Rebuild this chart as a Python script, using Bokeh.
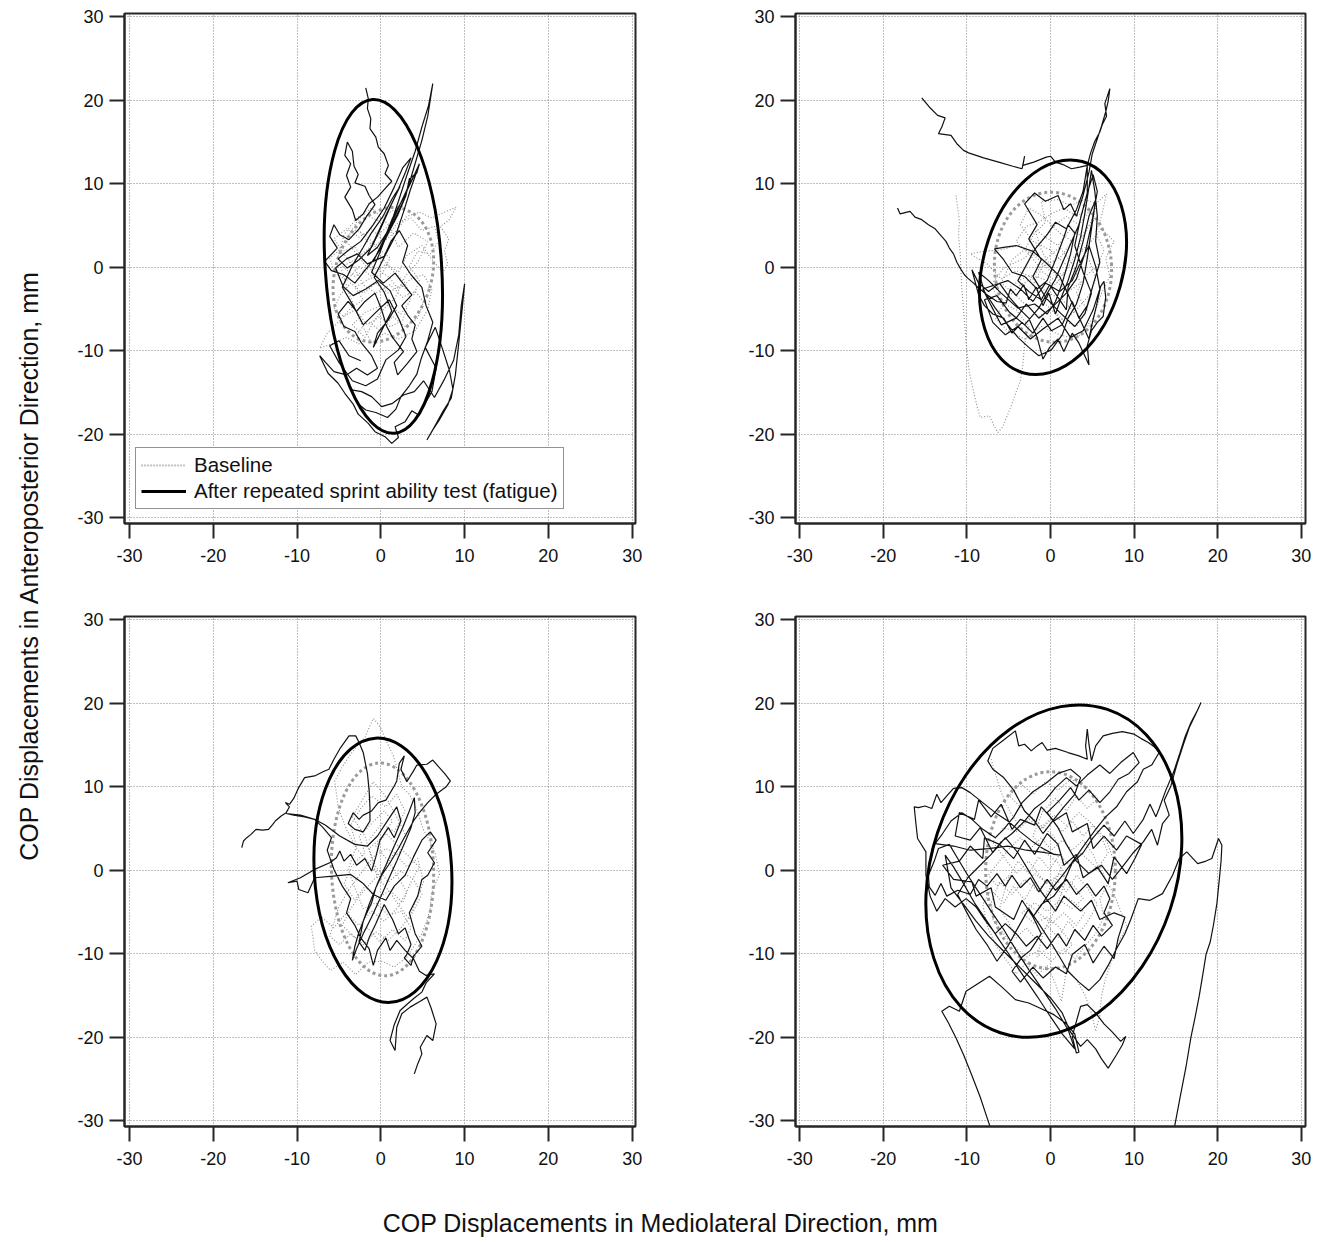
import math
from bokeh.plotting import figure
from bokeh.layouts import row, column
from bokeh.models import FixedTicker, Range1d, Legend, LegendItem, Label
from bokeh.embed import file_html
from bokeh.resources import INLINE

FONT = "Liberation Sans"

tick_values = [-30, -20, -10, 0, 10, 20, 30]
tick_labels = {-30: "-30", -20: "-20", -10: "-10", 0: "0", 10: "10", 20: "20", 30: "30"}
x_label = "COP Displacements in Mediolateral Direction, mm"
y_label = "COP Displacements in Anteroposterior Direction, mm"
legend_labels = ["Baseline", "After repeated sprint ability test (fatigue)"]

# ---- Panel 1 (top-left) ----
p1_baseline = [
 (-0.5,-1.2),(-1.8,0.6),(-3.1,2.4),(-4.6,1.9),(-5.6,3.4),(-4.1,4.6),(-2.6,3.6),(-1.1,4.6),(0.4,3.1),(1.9,4.4),(3.1,6.1),(4.6,6.6),(6.1,5.9),(7.6,6.6),(9.0,7.2),(8.1,5.6),(7.1,4.9),(8.1,3.4),(7.6,1.9),(8.0,0.4),(7.4,-0.6),(6.1,0.9),(4.9,2.6),(3.1,1.4),(2.1,-0.6),(0.6,0.4),(-1.1,-1.1),(-2.6,0.1),(-4.1,-1.6),(-5.6,-0.4),(-6.1,1.1),(-4.9,2.1),(-3.4,0.4),(-2.1,-2.1),(-0.6,-3.1),(1.1,-2.1),(2.6,-3.6),(4.1,-2.9),(5.1,-4.1),(4.4,-6.1),(2.9,-7.1),(1.4,-5.9),(-0.1,-7.6),(-1.6,-6.4),(-2.9,-8.1),(-2.6,-9.2),(-4.1,-8.4),(-5.6,-9.1),(-7.3,-9.7),(-6.4,-7.9),(-4.9,-6.4),(-3.6,-4.9),(-2.1,-3.9),(-3.1,-2.4),(-1.4,-1.4),(0.1,-0.9),(1.1,1.1),(-0.1,2.1),(-1.6,3.1),(-3.1,5.1),(-2.1,6.4),(-0.4,5.6),(1.1,6.6),(2.6,7.4),(1.4,5.4),(-0.1,4.1),(-1.6,2.1),(-3.1,0.9),(-4.6,0.1),(-3.1,-1.1),(-1.1,0.1),(0.9,-1.1),(2.1,-2.6),(3.6,-1.4),(5.1,-0.9),(6.1,-2.6),(5.6,-5.1),(4.1,-7.6),(2.1,-8.6),(0.4,-7.9),(-1.1,-9.1),(-2.4,-6.6),(-3.9,-2.9),(-5.1,1.1),(-4.4,3.9),(-2.9,5.9),(-1.1,7.1),(0.9,5.1),(2.1,2.4),(3.9,4.1),(5.6,3.1),(4.4,0.6),(2.9,-1.1),(1.6,-3.9),(0.1,-4.6),(-1.9,-5.4),(-3.4,-6.9),(-1.9,-8.4),
 (-0.6,-6.1),(0.9,-4.4),(2.4,-5.6),(3.6,-3.9),(2.9,-1.9),(1.4,-0.4),(-0.1,1.4),(-1.6,-0.1),(-2.9,1.6),(-4.1,3.1),(-3.4,4.6),(-1.9,3.9),(-0.6,2.6),(0.9,3.9),(2.1,5.4),(3.6,5.9),(4.9,4.4),(6.4,4.9),(6.9,3.1),(5.9,1.6),(4.4,1.9),(3.4,0.1),(4.6,-1.6),(3.9,-3.4),(2.4,-2.1),(0.9,-3.1),(-0.6,-1.9),(-2.1,-3.1),(-3.6,-1.9),(-4.9,-3.4),(-5.6,-5.1),(-4.4,-5.9),(-3.1,-5.1),(-1.6,-6.9),(-0.1,-5.9),(1.1,-7.1),(2.6,-6.4),(3.1,-4.9)
]
p1_fatigue = [
 (-1.8,21.5),(-1.5,20.2),(-1.6,19.0),(-1.2,17.8),(-1.3,16.6),(-0.6,15.6),(-0.3,14.4),(0.4,13.6),(0.9,12.2),(0.5,11.2),(1.3,10.3),(0.4,9.3),(-0.4,8.4),(-1.4,7.6),(-2.1,6.4),(-3.0,5.6),(-3.4,6.9),(-4.3,8.4),(-3.6,9.6),(-4.1,11.0),(-3.6,12.4),(-4.3,13.4),(-4.0,15.0),(-3.4,13.9),(-3.2,12.1),(-2.7,11.1),(-3.1,10.1),(-1.9,9.7),(-1.4,8.6),(-0.7,7.5),(-1.7,6.1),(-2.6,4.6),(-3.8,3.3),(-4.9,3.9),(-5.6,5.1),(-6.1,3.7),(-5.2,2.3),(-6.7,0.7),(-5.9,-0.4),(-4.4,-0.9),(-3.1,-1.9),(-2.0,-0.5),(-1.1,0.6),(-0.1,2.1),(0.9,4.1),(2.0,6.2),(3.0,8.6),(3.4,10.6),(4.3,11.3),(4.6,12.4),(3.7,10.4),(2.6,8.1),(1.4,5.9),(0.4,3.4),(-0.9,0.7),(0.2,2.9),(1.6,5.6),(2.9,8.4),(4.0,12.1),(4.9,15.2),(5.6,18.1),(6.2,22.0),(5.7,19.4),(4.9,16.8),(4.1,13.9),(3.1,11.0),(2.1,7.9),(1.1,4.9),(-0.1,1.8),(-1.1,-0.6),(0.3,-1.9),(1.7,-0.7),(2.9,-2.3),(3.7,-3.3),(2.5,-4.6),(3.3,-5.9),(4.1,-6.9),(3.7,-8.6),(4.3,-10.1),(3.1,-11.6),(2.0,-12.9),(1.6,-11.4),(2.7,-10.1),(1.4,-8.4),(0.7,-7.1),(0.1,-5.1),(-0.7,-3.1),(-1.9,-4.1),(-2.9,-5.3),(-3.9,-4.1),(-5.1,-5.6),(-4.4,-7.1),(-3.1,-7.7),(-2.3,-9.1),(-1.1,-10.6),(-0.4,-12.1),(-1.6,-12.9),(-2.9,-12.1),(-4.1,-12.9),(-5.6,-12.5),(-6.6,-11.4),(-7.3,-10.6),(-6.3,-12.7),(-5.1,-13.9),(-4.3,-15.1),(-3.3,-16.4),(-2.7,-17.6),(-1.5,-18.7),(-0.7,-19.7),(0.5,-20.3),(1.3,-21.1),(2.1,-20.4),(1.7,-19.1),(2.9,-18.5),(3.7,-17.2),(4.5,-17.7),(5.4,-16.1),(6.1,-14.9),(6.6,-12.1),(5.3,-9.6),(6.5,-7.2),(7.3,-9.6),(8.2,-12.4),(8.6,-14.6),(8.0,-16.5),(7.1,-18.1),(6.2,-19.5),(5.5,-20.7),(6.4,-19.1),(7.4,-17.3),(8.4,-15.7),(8.9,-12.9),(9.3,-9.1),(9.7,-5.1),(10.0,-2.0),(9.6,-4.6),(9.3,-8.1),(8.7,-11.1),(7.6,-13.4),(6.4,-15.6),(5.1,-13.6),(4.0,-14.9),(2.7,-15.3),(1.4,-16.3),(0.1,-16.7),(-1.1,-15.5),(-2.3,-14.9),(-3.5,-14.7),(-2.8,-16.3),(-1.8,-17.1),(-0.6,-17.4),(0.8,-18.0),(1.8,-17.0),(2.4,-15.5),(3.4,-14.2),(4.3,-12.8),(4.8,-11.0),(5.6,-8.8),(6.2,-6.6),(5.4,-4.6),(4.9,-2.4),(3.6,-0.9),(2.6,0.6),(3.2,2.6),(2.2,4.4),(1.2,3.1),(0.4,1.3),(-1.6,0.4),(-2.8,1.6),(-4.1,1.0),(-5.4,-0.1),(-4.5,-2.3),(-3.3,-3.4),(-1.8,-2.6),(-0.3,-1.6),(1.1,-2.8),(1.9,-4.6),(0.9,-6.3),(-0.4,-7.9),(-0.9,-9.6),
 (0.2,-7.4),(1.3,-5.2),(0.4,-3.0),(-0.8,-1.2),(0.6,1.6),(1.8,3.9),(2.7,6.6),(3.5,9.2),(4.4,11.8),(3.4,9.9),(2.1,7.1),(1.0,4.6),(-0.4,2.4),(-1.6,1.4),(-0.6,3.6),(0.7,6.4),(1.9,8.9),(2.9,11.3),(3.6,13.1),(2.6,11.9),(1.6,9.6),(0.4,7.1),(-0.9,5.1),(-2.4,3.1),(-3.9,2.0),(-5.1,1.0),(-4.0,-0.1),(-2.6,0.9),(-1.1,2.4),(0.1,4.9),(1.2,7.4),(2.3,9.7),(1.4,8.3),(0.2,6.0),(-1.2,4.0),(-2.1,2.4),(-3.4,0.2),(-4.6,-2.4),(-3.3,-4.6),(-2.1,-6.9),(-0.6,-5.4),(1.0,-3.9),(2.2,-6.3),(3.0,-8.3),(2.1,-9.9),(0.6,-11.1),(-0.4,-13.4),(-1.8,-14.2),(-3.4,-13.6),(-5.0,-11.4),(-6.1,-9.4),(-5.0,-8.8),(-3.8,-10.6),(-2.4,-11.2)
]
# ellipse: (center x, center y, minor width, major height, angle rad)
p1_base_ellipse = (0.3, -0.9, 11.5, 16.5, -0.3)
p1_fat_ellipse = (0.3, 0.1, 13.9, 40.1, 0.065)

# ---- Panel 2 (top-right) ----
p2_baseline = [
 (-11.3,8.6),(-11.1,7.1),(-10.9,5.6),(-11.0,3.9),(-10.8,1.6),(-10.7,-0.6),(-10.6,-2.6),(-10.4,-5.1),(-10.2,-7.6),(-10.0,-10.1),(-9.7,-12.6),(-9.2,-14.9),(-8.8,-16.6),(-8.4,-18.0),(-7.3,-17.8),(-6.8,-18.9),(-6.3,-19.8),(-5.7,-19.1),(-5.1,-17.6),(-4.6,-16.3),(-4.1,-14.9),(-3.6,-13.6),(-3.3,-11.6),(-3.1,-9.3),(-2.6,-7.1),(-4.1,-5.1),(-6.1,-4.1),(-7.1,-2.1),(-5.6,-0.1),(-3.1,1.1),(-1.1,3.1),(0.4,4.9),(1.9,6.1),(3.4,5.1),(4.9,7.1),(6.7,8.8),(6.1,6.1),(5.4,4.1),(6.4,2.1),(5.6,0.1),(4.1,-1.1),(3.1,-3.1),(4.4,-5.1),(3.1,-7.1),(1.1,-6.1),(-0.9,-4.1),(-2.1,-2.1),(-0.9,0.1),(1.1,1.1),(2.6,3.1),(1.1,4.1),(-0.9,6.1),(-2.6,7.1),(-3.6,5.1),(-2.1,3.1),(-0.1,2.1),(2.1,0.1),(0.6,-2.1),(-1.6,-1.1),(-3.6,-2.1),(-5.1,-3.6),(-6.6,-6.1),(-5.1,-7.6),(-3.1,-8.6),(-1.1,-7.1),(1.1,-8.1),(3.1,-8.6),(5.1,-6.1),(6.1,-3.1),(7.1,-1.1),(6.6,1.1),(7.6,3.1),(6.1,4.6),(4.4,2.6),(2.9,1.4),(1.6,-0.9),(-0.1,-0.4),(-1.9,1.4),(-3.9,2.6),(-5.9,2.1),(-8.1,1.9),(-9.6,1.6),(-7.6,0.4),(-5.9,-1.4),(-4.1,-0.4),(-2.4,-1.1),(-0.6,-2.9),(1.4,-3.9),(2.9,-5.4),(1.9,-2.6),(0.4,-0.6),(-1.1,2.1),(-1.9,4.6),(-0.6,3.6),(0.9,2.6),(2.4,4.6),(3.9,3.6),(4.9,5.6),(5.6,7.6),(4.1,8.1),(2.4,7.4),(0.9,8.1),(-1.1,7.9),(-0.6,5.4),
 (-1.9,4.1),(-3.1,2.1),(-4.6,0.9),(-5.9,-1.9),(-4.4,-3.1),(-2.9,-4.6),(-1.4,-5.9),(0.1,-4.9),(1.6,-6.4),(3.1,-5.1),(4.6,-3.4),(5.4,-1.4),(4.6,0.9),(3.4,2.4),(4.1,4.4),(5.4,5.9),(4.4,6.9),(3.1,6.1),(1.6,7.1),(0.1,6.4),(-1.4,5.4),(-2.9,4.9),(-4.1,3.1),(-2.4,1.4),(-0.9,-0.6),(0.6,-1.6),(2.1,-2.9),(3.6,-1.9),(2.6,0.4),(1.1,2.4),(-0.4,1.1),(-1.9,-0.9),(-3.4,-1.4),(-4.9,-2.4)
]
p2_fatigue = [
 (-18.3,7.1),(-18.0,6.4),(-16.8,6.7),(-16.2,6.0),(-15.4,5.7),(-14.6,5.1),(-13.8,4.6),(-13.1,3.8),(-12.5,3.1),(-12.1,2.3),(-11.6,1.6),(-11.2,0.6),(-10.8,-0.1),(-10.3,-0.9),(-9.9,-1.3),(-9.2,-1.9),(-8.7,-2.4),(-7.6,-3.3),(-6.4,-4.1),(-5.3,-4.3),(-4.8,-2.6),(-4.1,-3.4),(-3.2,-2.1),(-2.6,-3.9),(-1.7,-2.4),(-0.9,-4.6),(-0.2,-3.1),(0.6,-5.6),(1.3,-3.6),(2.1,-1.6),(2.9,0.9),(3.6,3.6),(4.1,6.4),(4.6,9.6),(4.9,11.6),(5.3,9.1),(5.6,6.1),(5.4,3.1),(5.9,0.6),(5.1,-2.1),(4.4,-4.6),(3.4,-6.1),(2.6,-4.1),(1.4,-6.9),(0.1,-7.6),(-0.9,-6.1),(-2.1,-7.9),(-3.4,-6.6),(-4.6,-7.9),(-5.6,-6.1),(-6.9,-5.6),(-7.9,-4.6),(-8.6,-3.3),(-9.4,-0.3),(-8.6,-1.9),(-7.4,-2.9),(-6.1,-1.9),(-4.9,-3.6),(-3.6,-5.1),(-2.6,-6.1),(-1.6,-8.4),(-0.9,-11.0),(-0.1,-9.6),(0.9,-8.6),(1.6,-10.1),(2.6,-7.9),(3.4,-9.1),(4.0,-10.4),(4.6,-11.7),(4.4,-9.4),(4.9,-7.6),(5.6,-6.6),(6.3,-5.9),(6.6,-3.6),(6.4,-1.7),(6.0,-2.3),(5.5,-4.6),(4.9,-7.1),(4.6,-8.6),(3.6,-6.4),(2.4,-3.9),(1.1,-1.1),(-0.6,0.6),(-2.1,1.9),(-4.1,2.6),(-5.4,2.4),(-6.7,2.2),(-5.6,0.9),(-4.6,-0.6),(-3.1,-1.1),(-1.6,-2.6),(-0.4,-1.6),(0.6,0.9),(1.6,3.6),(2.1,5.1),(2.9,4.1),(2.4,1.6),(1.4,-1.9),(0.6,-4.1),(-0.4,-5.6),(-1.9,-4.4),(-3.9,-4.9),(-5.9,-3.1),(-7.4,-1.6),(-8.6,-0.6),(-7.9,-2.9),(-6.6,-4.9),(-5.1,-6.9),(-3.9,-8.4),(-2.6,-9.6),(-1.4,-10.6),(0.1,-9.9),(1.4,-8.1),(2.1,-6.1),(3.1,-4.4),(3.9,-1.9),(4.4,1.1),(4.9,4.6),(5.4,8.1),(4.6,6.1),(3.9,3.1),(3.1,0.1),(2.1,-2.4),(1.9,-5.1),(0.9,-3.6),(-0.1,-2.1),(-1.1,-3.9),(-2.6,-2.9),(-3.9,-1.6),(-1.9,2.1),(-0.4,3.9),(0.6,5.4),(1.9,4.6),(3.1,6.9),(3.9,9.1),(4.4,12.2),(4.8,13.7),(5.3,15.1),(5.9,16.2),(6.2,17.1),(6.7,18.1),(6.5,19.6),(7.1,21.4),(6.9,19.9),(6.6,18.6),(6.1,16.9),(5.6,15.4),(5.0,13.6),(4.6,11.4),(3.9,8.6),(3.1,6.1),(2.4,7.6),(1.6,6.9),(0.9,8.6),(-0.6,7.9),(-1.9,8.9),(-3.1,7.6),(-1.6,5.1),(-2.6,3.4),(-1.1,0.9),(-2.1,-1.1),(-0.6,-3.6),(1.1,-5.4),(2.9,-7.1),(4.1,-5.6),(4.9,-3.1),(3.9,-0.6),(2.9,2.6),(3.6,5.9),(4.4,8.9),
 (3.4,5.1),(2.1,2.1),(0.6,-1.4),(-1.4,-4.9),(-3.1,-6.9),(-4.9,-5.4),(-6.4,-3.4),(-7.9,-3.9),(-6.9,-6.6),(-5.4,-8.1),(-3.9,-7.1),(-2.4,-8.6),(-0.9,-7.4),(0.9,-6.1),(2.4,-8.4),(3.9,-7.6),(5.1,-5.1),(5.9,-2.6),(5.4,0.1),(4.6,2.6),(3.6,0.6),(2.6,-1.6),(1.1,-2.9),(-0.6,-1.9),(-2.1,-4.1),(-3.6,-2.6),(-5.1,-1.6),(-6.6,-2.1),(-8.1,-2.6),(-7.1,-4.6),(-5.9,-6.9),(-4.1,-6.1),(-2.9,-4.4),(-1.4,-6.1),(0.4,-4.6),(1.9,-3.1),(3.1,-1.4),(4.1,1.6),(4.9,5.1),(5.6,9.1),(5.1,11.1),(4.4,8.9),
 (4.4,12.2),(3.5,12.0),(2.5,11.8),(1.5,12.3),(0.6,12.6),(0.0,13.3),(-0.5,13.2),(-2.0,12.6),(-3.3,12.2),(-3.1,13.3),(-3.4,11.8),(-4.5,12.1),(-6.2,12.6),(-8.0,13.1),(-9.8,13.7),(-10.4,14.0),(-11.2,14.8),(-11.9,15.8),(-13.4,16.0),(-13.0,16.8),(-12.6,17.9),(-13.5,18.2),(-14.5,19.2),(-15.4,20.3)
]
p2_base_ellipse = (0.3, 0.0, 14.0, 18.0, 0.07)
p2_fat_ellipse = (0.3, 0.0, 16.7, 26.3, -0.27)

# ---- Panel 3 (bottom-left) ----
p3_baseline = [
 (0.1,-1.1),(-1.4,0.9),(-2.9,2.6),(-4.1,4.9),(-5.1,7.6),(-5.5,10.7),(-4.6,12.4),(-3.6,13.9),(-2.7,15.1),(-1.9,15.9),(-1.4,17.1),(-0.9,18.2),(-0.4,17.6),(0.0,17.0),(0.6,15.6),(1.5,13.7),(2.1,11.6),(2.5,10.0),(3.4,9.1),(4.0,8.0),(4.6,6.4),(5.0,5.0),(5.9,3.4),(6.5,2.0),(7.0,-0.5),(6.4,-1.9),(6.0,-3.0),(5.9,-4.6),(5.5,-6.0),(4.9,-7.6),(4.0,-9.0),(3.1,-10.4),(1.6,-11.6),(0.1,-10.9),(-1.5,-11.0),(-3.0,-12.5),(-4.5,-11.0),(-6.0,-12.0),(-7.0,-10.9),(-7.9,-9.6),(-8.1,-8.1),(-8.3,-6.7),(-7.1,-5.6),(-5.6,-6.9),(-4.1,-5.1),(-2.6,-6.6),(-1.1,-4.9),(0.4,-6.1),(1.9,-4.6),(3.1,-2.6),(2.1,-0.9),(0.9,1.1),(-0.6,2.9),(0.6,4.4),(1.9,3.1),(3.4,1.6),(4.6,0.4),(3.6,-1.4),(2.6,-3.9),(1.1,-2.4),(-0.4,-3.4),(-1.9,-1.9),(-3.1,-3.6),(-4.4,-1.6),(-3.4,0.6),(-1.9,2.1),(-2.6,4.1),(-1.1,5.6),(0.4,7.1),(1.4,5.9),(0.1,3.9),(-1.4,2.6),(-0.6,0.4),(0.9,-1.4),(2.4,-0.1),(3.9,-1.1),(4.9,-2.9),(3.9,-4.9),(2.4,-6.9),(0.9,-8.4),(-0.6,-7.4),(-2.1,-8.9),(-3.6,-7.6),(-4.9,-8.9),(-6.1,-7.9),(-5.1,-4.6),(-3.9,-2.4),(-2.4,-0.4),(-0.9,1.6),(0.6,2.6),(2.1,1.9),(3.1,3.9),(1.9,6.4),(0.4,9.1),(-0.9,10.6),(-2.1,8.6),(-3.4,6.4),(-1.9,4.1),(-0.4,-0.9),
 (0.9,-2.4),(2.1,-4.1),(3.4,-5.9),(4.1,-3.9),(5.1,-1.4),(4.4,1.4),(3.1,0.4),(1.6,2.1),(0.4,0.1),(-1.1,-1.4),(-2.4,-2.9),(-3.6,-4.6),(-4.6,-6.6),(-3.1,-8.1),(-1.6,-6.9),(-0.1,-8.6),(1.4,-7.1),(2.9,-8.4),(3.6,-6.9),(2.4,-4.9),(0.9,-5.4),(-0.6,-3.9),(-2.1,-4.6),(-3.1,-2.1),(-3.9,0.1),(-2.9,2.9),(-3.6,5.4),(-2.4,7.4),(-1.1,8.9),(0.6,7.6),(1.9,9.1),(2.9,7.1),(1.6,4.6),(0.1,5.6),(-1.4,3.6)
]
p3_fatigue = [
 (-16.6,2.7),(-16.4,3.5),(-16.0,3.9),(-15.5,4.3),(-14.9,4.9),(-14.1,4.8),(-13.4,4.9),(-12.9,5.5),(-12.6,5.9),(-11.9,6.5),(-11.3,6.9),(-10.9,7.6),(-11.4,8.1),(-10.9,7.9),(-10.4,8.6),(-9.8,9.9),(-9.1,11.1),(-7.9,11.3),(-6.9,11.8),(-6.2,12.1),(-5.6,13.3),(-4.8,14.7),(-3.8,16.1),(-3.0,16.1),(-2.6,15.3),(-2.1,14.1),(-1.6,11.6),(-1.4,9.6),(-1.3,7.6),(-1.3,5.9),(-2.1,4.6),(-3.1,4.9),(-3.9,5.6),(-3.3,6.9),(-2.6,6.1),(-2.1,6.6),(-1.1,7.1),(-0.3,8.1),(0.6,8.4),(1.6,10.1),(1.9,10.7),(2.2,12.8),(2.8,13.7),(2.4,12.1),(3.1,10.6),(3.9,11.9),(4.3,12.6),(5.5,12.7),(6.2,13.2),(6.8,12.5),(7.6,11.6),(8.3,10.7),(7.8,10.0),(6.6,9.1),(5.6,8.1),(4.6,6.9),(3.9,5.9),(2.9,4.1),(2.1,2.6),(1.1,0.9),(0.1,-0.6),(-0.6,-2.1),(-1.1,-3.9),(-1.9,-5.6),(-2.6,-7.4),(-3.1,-9.1),(-3.4,-10.8),(-2.9,-9.4),(-2.1,-7.6),(-1.1,-5.6),(-0.1,-3.4),(0.9,-1.1),(1.9,1.1),(2.9,3.4),(3.6,5.1),(4.1,6.9),(4.0,8.7),(3.4,7.1),(2.6,5.1),(1.6,2.9),(0.6,0.6),(-0.4,-1.6),(-1.4,-4.1),(-2.1,-6.1),(-2.6,-8.6),(-1.9,-9.6),(-1.4,-8.1),(-0.6,-6.4),(0.4,-4.1),(1.4,-5.9),(2.1,-7.6),(2.9,-6.9),(3.6,-8.9),(3.1,-10.1),(2.8,-10.5),(3.6,-11.4),(3.9,-10.3),(4.9,-9.1),(4.1,-7.6),(3.4,-5.1),(4.4,-3.1),(4.9,-1.1),(5.6,-0.6),(6.4,0.9),(5.6,2.1),(6.6,3.6),(5.9,4.6),(4.9,3.6),(3.9,1.6),(2.9,-0.6),(1.6,-1.9),(0.6,-3.6),(-0.9,-2.9),(-2.1,-1.6),(-3.6,-0.5),(-5.7,-0.7),(-7.9,-0.9),(-8.7,-2.7),(-9.8,-2.3),(-10.0,-1.3),(-11.1,-1.5),(-9.6,-0.9),(-7.9,0.1),(-6.1,0.9),(-5.3,1.5),(-4.9,2.3),(-4.4,1.1),(-3.6,1.9),(-2.9,0.6),(-1.9,1.4),(-1.1,-0.1),(-0.6,1.6),(-0.1,3.6),(0.9,5.1),(1.6,3.9),(2.4,5.9),(1.9,7.6),(0.9,6.1),(-0.4,4.1),(-1.6,2.9),(-3.1,3.1),(-4.9,4.1),(-6.6,5.4),(-7.9,6.1),(-9.1,6.4),(-10.4,6.6),(-11.3,6.8),(-9.6,6.6),(-7.9,6.1),(-6.9,5.1),(-5.9,3.9),(-6.4,2.4),(-5.6,0.1),(-4.6,-1.9),(-3.6,-3.4),(-4.1,-5.1),(-3.1,-6.6),(-2.4,-8.1),(-1.4,-9.4),(-0.9,-11.4),(-0.4,-9.6),(0.6,-8.1),(1.1,-9.6),(1.9,-8.4),(2.9,-9.6),(3.9,-10.6),(4.6,-12.1),(5.4,-12.6),(6.4,-12.4),(5.4,-13.5),(4.9,-14.6),(4.0,-15.3),(3.2,-16.0),(2.3,-16.8),(1.6,-18.5),(1.1,-20.4),(1.7,-21.6),(1.9,-18.8),(2.5,-17.2),(3.5,-16.4),(4.7,-15.7),(5.5,-15.2),(6.0,-16.5),(6.6,-18.4),(6.2,-20.4),(5.5,-19.8),(4.7,-21.2),(4.9,-22.0),(4.4,-23.2),(4.0,-24.4)
]
p3_base_ellipse = (0.2, 0.1, 12.2, 25.5, 0.03)
p3_fat_ellipse = (0.25, 0.0, 16.4, 31.7, 0.056)

# ---- Panel 4 (bottom-right) ----
p4_baseline = [
 (-7.1,13.3),(-6.6,11.6),(-6.1,9.9),(-5.4,8.1),(-4.6,6.6),(-3.6,5.1),(-2.4,6.4),(-1.1,4.9),(0.1,6.1),(1.4,4.6),(2.6,5.9),(3.9,4.1),(5.1,5.4),(6.1,3.9),(6.9,2.1),(5.9,0.6),(6.6,-1.1),(7.6,-2.9),(8.4,-4.9),(9.2,-6.8),(8.1,-8.6),(7.4,-10.6),(6.6,-12.9),(6.1,-15.1),(5.9,-17.4),(5.4,-19.3),(4.9,-17.1),(4.1,-14.9),(3.1,-13.1),(1.9,-11.9),(1.6,-13.9),(1.3,-15.7),(0.6,-13.6),(-0.4,-11.4),(-1.6,-12.6),(-2.9,-11.1),(-4.1,-12.4),(-5.4,-10.6),(-6.6,-8.9),(-7.6,-6.6),(-8.1,-4.1),(-7.1,-2.4),(-5.6,-3.9),(-4.4,-1.9),(-3.1,-3.6),(-1.9,-1.4),(-0.6,-3.1),(0.6,-0.9),(1.9,-2.6),(3.1,-0.6),(4.4,-2.1),(5.6,-4.1),(4.6,-5.9),(3.4,-7.6),(2.1,-6.1),(0.9,-8.1),(-0.4,-6.6),(-1.6,-8.4),(-2.9,-6.9),(-4.1,-8.1),(-5.1,-6.1),(-6.1,-4.6),(-5.1,-1.1),(-3.9,1.1),(-2.6,-0.4),(-1.4,1.6),(-0.1,0.1),(1.1,1.9),(2.4,0.4),(3.6,2.1),(4.9,0.9),(6.1,-0.4),(5.1,1.9),(3.9,3.6),(2.6,2.4),(1.4,3.6),(0.1,2.4),(-1.1,3.9),(-2.4,2.6),(-3.6,3.9),(-4.9,2.6),(-6.1,1.1),(-7.4,-0.6),(-6.4,-1.9),(-4.9,-0.6),(-3.4,-1.9),(-1.9,-0.4),(-0.4,-1.6),(1.1,-0.4),(2.6,-1.6),(3.9,-3.4),(2.6,-4.6),(1.1,-3.6),(-0.4,-4.9),(-1.9,-3.9),(-3.4,-5.1),(-1.9,-6.4),(-0.4,-5.6),(1.1,-6.9),(2.6,-8.9),(1.4,-10.1),(-0.1,-9.1),(-1.6,-10.4),(-0.9,-7.6),(0.6,-4.6),(1.9,-1.1),(0.9,0.9),(-0.6,2.1),(-2.1,4.1),(-0.9,7.1),(0.6,8.6),(1.9,7.1),(3.1,8.9),(4.4,7.4),(5.6,8.6),(4.1,10.1),(2.4,10.9),(0.9,9.6),(-0.6,10.6),(-2.1,9.1),(-3.6,10.4),(-4.9,8.9),(-3.1,7.1),(-1.4,5.6),(0.4,4.1),(1.6,1.1),(0.4,-1.9),
 (-1.1,-0.9),(-2.6,1.1),(-4.1,-0.4),(-5.6,1.6),(-6.9,3.4),(-5.6,5.1),(-4.1,4.6),(-2.6,6.1),(-1.1,5.1),(0.4,6.6),(1.9,5.4),(3.4,6.9),(4.6,5.9),(5.9,4.6),(6.9,3.1),(7.6,0.9),(6.9,-1.6),(5.9,-3.4),(6.4,-5.6),(5.4,-7.6),(4.1,-9.1),(2.9,-10.6),(1.6,-9.4),(0.1,-10.9),(-1.4,-9.6),(-2.9,-10.4),(-4.4,-9.1),(-5.6,-7.6),(-6.9,-5.9),(-7.1,-3.9),(-6.1,-1.4),(-4.6,-2.9),(-3.1,-1.1),(-1.6,-2.4),(-0.1,-1.1),(1.4,-2.9),(2.9,-3.9),(4.1,-5.1),(3.1,-6.6),(1.6,-5.1),(0.1,-6.4),(-1.4,-5.1),(-2.9,-3.9)
]
p4_fatigue = [
 (-6.8,-32.0),(-7.6,-29.6),(-8.4,-27.2),(-9.4,-24.6),(-10.4,-22.1),(-11.3,-20.1),(-12.2,-18.3),(-13.0,-16.9),(-12.1,-16.3),(-10.9,-16.9),(-10.1,-14.5),(-8.7,-13.6),(-7.3,-12.7),(-5.8,-14.0),(-4.2,-15.5),(-2.6,-15.9),(-1.1,-16.6),(0.4,-17.3),(1.9,-18.4),(2.9,-19.6),(3.4,-21.8),(3.1,-21.9),(2.6,-19.9),(3.6,-16.3),(4.4,-16.1),(5.4,-17.1),(6.4,-18.4),(7.4,-19.4),(8.4,-20.5),(9.0,-19.9),(8.6,-20.9),(7.9,-22.1),(6.9,-23.7),(6.1,-22.6),(5.4,-21.4),(4.4,-20.3),(3.6,-21.1),(2.4,-19.4),(1.4,-17.1),(0.1,-15.4),(-1.4,-13.9),(-2.9,-12.4),(-4.4,-10.9),(-5.9,-9.4),(-7.4,-7.9),(-8.9,-6.1),(-10.4,-4.1),(-11.9,-2.1),(-12.6,1.8),(-11.6,0.4),(-10.4,-1.6),(-9.1,-3.9),(-7.6,-6.1),(-6.1,-8.4),(-4.6,-10.6),(-3.1,-12.9),(-1.6,-15.1),(-0.1,-17.4),(1.4,-19.6),(2.9,-21.4),(2.1,-19.1),(0.6,-16.6),(-1.1,-14.1),(-2.6,-11.9),(-4.1,-9.6),(-5.6,-7.1),(-7.1,-4.9),(-8.6,-2.6),(-9.9,-0.6),(-11.1,1.4),(-12.1,3.1),(-13.4,2.6),(-13.9,1.1),(-14.6,-0.6),(-14.5,-2.0),(-13.8,-3.0),(-13.1,-1.6),(-12.4,-3.1),(-11.1,-2.4),(-9.6,-2.9),(-8.6,-1.1),(-7.6,-1.9),(-6.4,-0.4),(-5.4,-1.9),(-4.6,-0.6),(-3.6,-2.1),(-2.4,-0.9),(-1.4,-2.6),(-0.4,-1.1),(0.6,-2.4),(1.9,-1.1),(3.1,-2.9),(4.4,-1.6),(5.4,-3.1),(6.4,-1.9),(7.1,-3.4),(6.4,-5.1),(7.4,-6.6),(6.1,-7.9),(5.1,-6.6),(4.1,-8.4),(2.9,-7.1),(1.9,-9.1),(0.9,-7.6),(-0.4,-9.4),(-1.6,-7.9),(-2.9,-9.1),(-4.1,-7.6),(-5.4,-6.4),(-6.6,-7.6),(-7.9,-5.9),(-8.9,-4.4),(-10.1,-3.4),(-11.4,-4.4),(-12.6,-3.4),(-13.6,-4.9),(-14.4,-3.1),(-14.9,-0.6),(-14.9,2.2),(-15.9,3.8),(-16.1,5.6),(-16.3,7.6),(-15.8,7.5),(-15.0,7.7),(-14.2,7.4),(-13.6,9.1),(-13.1,8.1),(-12.4,8.9),(-11.6,9.8),(-10.6,9.9),(-9.6,9.3),(-8.1,8.1),(-6.6,6.9),(-5.1,5.9),(-3.6,4.6),(-2.1,3.4),(-0.9,2.6),(0.4,1.9),(1.3,1.8),(-0.6,2.1),(-2.9,2.4),(-5.1,2.9),(-7.4,2.6),(-9.6,2.4),(-11.6,2.9),(-13.8,3.2),(-12.9,4.4),(-11.9,5.9),(-10.6,6.9),(-9.4,6.1),(-8.1,4.9),(-6.6,3.9),(-5.6,4.9),(-4.4,6.4),(-3.4,8.1),(-2.1,9.4),(-0.6,10.4),(0.9,11.6),(2.4,12.1),(3.6,11.1),(2.9,9.1),(1.6,7.6),(0.4,6.1),(-0.9,4.4),(-1.9,5.9),(-3.1,7.1),(-4.4,9.6),(-5.6,11.1),(-6.9,12.1),(-7.5,13.1),(-6.9,14.6),(-5.6,15.6),(-4.2,16.7),(-3.8,14.9),(-3.1,15.1),(-2.3,14.3),(-1.6,14.9),(-1.0,15.3),(-0.4,14.4),(0.6,14.6),(2.1,14.1),(3.4,13.7),(4.4,13.3),(4.2,14.9),(4.4,16.9),(4.6,15.1),(4.9,13.1),(5.4,14.9),(6.3,16.1),(7.4,16.4),(8.6,16.6),(10.0,16.3),(10.8,15.8),(11.7,15.3),(12.4,14.8),(13.0,14.1),(12.1,12.6),(11.1,12.1),(10.4,10.6),(9.1,9.4),(7.9,7.6),(6.6,6.4),(5.4,4.9),(4.1,3.1),(2.9,1.4),(1.6,-0.4),(0.4,-1.9),(-0.9,-3.9),(-2.1,-5.6),
 (-3.4,-3.6),(-4.4,-5.9),(-6.6,-4.4),(-7.1,-2.1),(-8.9,-3.1),(-9.4,-1.4),(-11.6,-1.1),(-12.9,0.6),(-10.9,1.1),(-9.6,2.9),(-8.1,1.4),(-7.9,3.9),(-6.1,3.1),(-4.4,1.4),(-3.1,3.6),(-1.9,1.9),(-0.4,4.4),(0.9,3.1),(1.6,0.6),(3.1,1.9),(3.9,-0.9),(5.6,0.4),(6.9,-1.6),(7.6,1.6),(9.1,-0.4),(10.1,1.4),(10.9,3.1),(9.1,4.1),(7.9,2.4),(6.4,4.1),(5.1,2.6),(4.4,5.6),(2.6,4.6),(1.9,6.9),(0.4,5.9),(-1.1,7.6),(-1.9,5.4),(-3.6,6.1),(-4.6,4.9),(-5.9,7.9),(-7.1,6.4),(-8.6,8.4),(-9.1,6.1),(-10.9,6.9),(-11.4,4.1),(-9.6,3.6),(-8.4,5.1),(-6.9,2.1),(-5.4,3.9),(-3.9,2.1),(-2.4,-0.4),(-1.1,-2.6),(0.6,-4.9),(1.6,-3.1),(3.6,-4.9),(4.9,-3.6),(5.9,-5.9),(7.6,-5.1),(8.9,-5.6),(8.1,-8.1),(7.6,-10.6),(6.4,-9.1),(5.1,-11.1),(4.1,-8.9),(2.6,-10.1),(1.9,-12.4),(0.6,-11.6),(-0.9,-12.9),(-2.1,-11.6),(-3.6,-13.4),(-4.6,-12.1),(-3.4,-10.4),(-2.4,-9.6),(-1.1,-7.6),(-2.1,-5.6),
 (-1.1,-4.1),(0.4,-3.1),(1.6,-1.4),(2.6,0.9),(3.9,2.1),(5.1,3.9),(6.4,5.4),(7.6,4.1),(8.9,5.9),(9.9,4.4),(11.1,6.1),(11.9,7.9),(12.6,6.4),(13.0,7.4),(13.8,9.6),(14.7,11.7),(15.5,14.1),(16.1,16.0),(16.8,17.7),(17.5,19.0),(18.0,20.1),(17.6,19.2),(16.6,17.1),(15.9,15.1),(15.1,12.6),(14.4,10.1),(13.6,8.4),(14.2,6.6),(13.4,5.6),(12.8,3.0),(12.1,4.9),(11.1,3.4),(9.9,2.1),(8.6,0.4),(7.4,-1.1),(6.1,0.6),(4.6,-0.4),(3.1,1.1),(1.9,3.1),(0.9,5.1),(-0.4,6.9),(1.1,8.4),(2.4,9.9),(3.4,8.4),(4.6,9.6),(5.9,8.1),(7.1,9.4),(8.1,10.9),(9.4,11.6),(10.6,12.9),(9.9,14.1),(8.4,12.9),(7.1,11.6),(5.9,12.6),(4.4,11.4),(3.1,10.1),(1.9,11.1),(0.6,9.9),(-0.6,8.4),(-1.9,7.4),(-3.1,5.9),(-4.6,4.4),(-5.9,3.4),(-7.1,1.9),(-8.4,0.6),(-9.9,-0.9),(-11.1,-2.9),(-10.1,-4.9),(-8.9,-7.1),(-7.6,-8.9),(-6.4,-10.9),(-5.1,-9.1),(-3.9,-6.9),(-2.6,-4.6),(-1.4,-6.4),(-0.1,-8.4),(1.1,-10.4),(2.1,-12.1),(3.4,-13.4),(4.6,-14.4),(5.9,-13.1),(6.9,-11.4),(7.9,-9.4),(8.9,-7.6),(9.6,-5.9),(10.5,-3.4),(11.9,-3.6),(13.4,-2.8),(14.6,-0.6),(15.4,1.4),(16.3,2.2),(17.6,0.8),(18.6,1.1),(19.3,1.4),(20.1,3.8),(20.5,3.0),(20.4,1.1),(20.2,-1.0),(19.9,-4.0),(19.5,-6.5),(19.1,-8.6),(18.6,-10.1),(18.2,-12.6),(17.8,-15.0),(17.3,-17.6),(16.8,-20.0),(16.2,-23.6),(15.5,-27.2),(14.6,-32.0)
]
p4_base_ellipse = (0.0, 0.0, 15.5, 23.6, 0.0)
p4_fat_ellipse = (0.4, -0.1, 29.3, 40.8, -0.32)

BASE_C = "#8a8a8a"
ELL_B_C = "#9a9a9a"
FRAME_C = "#262626"
NAN = float("nan")


def make_panel(base, fat, ell_b, ell_f, xr, bl, br, bt, bb, frame_w, frame_h, legend=False):
    p = figure(width=bl + frame_w + br, height=bt + frame_h + bb,
               x_range=Range1d(*xr), y_range=Range1d(-30.7, 30.4),
               toolbar_location=None, output_backend="svg",
               min_border_left=bl, min_border_right=br,
               min_border_top=bt, min_border_bottom=bb)
    p.background_fill_color = "white"
    p.border_fill_color = "white"
    p.outline_line_color = FRAME_C
    p.outline_line_width = 2
    p.outline_line_alpha = 1.0
    ticker = FixedTicker(ticks=tick_values, minor_ticks=[])
    for ax in (p.xaxis[0], p.yaxis[0]):
        ax.ticker = ticker
        ax.major_label_overrides = dict(tick_labels)
        ax.major_tick_out = 15
        ax.major_tick_in = 0
        ax.minor_tick_out = 0
        ax.minor_tick_in = 0
        ax.axis_line_width = 2
        ax.axis_line_color = FRAME_C
        ax.major_tick_line_width = 2
        ax.major_tick_line_color = FRAME_C
        ax.major_label_text_font = FONT
        ax.major_label_text_font_size = "18px"
        ax.major_label_text_color = "#111111"
    p.xaxis.major_label_standoff = 10
    p.yaxis.major_label_standoff = 6
    for g in (p.xgrid[0], p.ygrid[0]):
        g.grid_line_color = "#808080"
        g.grid_line_dash = "1 2"
        g.grid_line_width = 1

    bx = [pt[0] for pt in base]
    by = [pt[1] for pt in base]
    fx = [pt[0] for pt in fat]
    fy = [pt[1] for pt in fat]
    p.line(bx, by, line_color=BASE_C, line_width=1.1, line_dash="1 2")
    p.ellipse(x=[ell_b[0]], y=[ell_b[1]], width=[ell_b[2]], height=[ell_b[3]],
              angle=[ell_b[4]], fill_color=None, line_color=ELL_B_C,
              line_width=3, line_dash="3 3")
    p.line(fx, fy, line_color="#111111", line_width=1.2)
    p.ellipse(x=[ell_f[0]], y=[ell_f[1]], width=[ell_f[2]], height=[ell_f[3]],
              angle=[ell_f[4]], fill_color=None, line_color="black", line_width=3)

    if legend:
        lb = p.line(x=[NAN, NAN], y=[NAN, NAN], line_color=BASE_C, line_width=1.8, line_dash="1 2")
        lf = p.line(x=[NAN, NAN], y=[NAN, NAN], line_color="black", line_width=3)
        leg = Legend(items=[LegendItem(label=legend_labels[0], renderers=[lb]),
                            LegendItem(label=legend_labels[1], renderers=[lf])],
                     location=(11, 14))
        leg.label_text_font = FONT
        leg.label_text_font_size = "20.5px"
        leg.label_text_color = "#111111"
        leg.border_line_color = FRAME_C
        leg.border_line_width = 1.5
        leg.background_fill_alpha = 1.0
        leg.padding = 5
        leg.spacing = 2
        leg.margin = 0
        leg.glyph_width = 45
        leg.glyph_height = 22
        leg.label_height = 22
        leg.label_standoff = 8
        p.add_layout(leg, "center")
    return p


YL_W = 64
f1 = make_panel(p1_baseline, p1_fatigue, p1_base_ellipse, p1_fat_ellipse,
                (-30.6, 30.4), 60, 20, 13, 50, 511, 510, legend=True)
f2 = make_panel(p2_baseline, p2_fatigue, p2_base_ellipse, p2_fat_ellipse,
                (-30.5, 30.5), 140, 8, 13, 50, 510, 510)
f3 = make_panel(p3_baseline, p3_fatigue, p3_base_ellipse, p3_fat_ellipse,
                (-30.6, 30.4), 60, 20, 43, 50, 511, 510)
f4 = make_panel(p4_baseline, p4_fatigue, p4_base_ellipse, p4_fat_ellipse,
                (-30.5, 30.5), 140, 8, 43, 50, 510, 510)

grid_h = (13 + 510 + 50) + (43 + 510 + 50)

ylab = figure(width=YL_W, height=grid_h, toolbar_location=None, output_backend="svg",
              x_range=Range1d(0, 1), y_range=Range1d(0, 1), min_border=0,
              x_axis_location=None, y_axis_location=None)
ylab.grid.visible = False
ylab.outline_line_color = None
ylab.add_layout(Label(x=28, y=grid_h - 565, x_units="screen", y_units="screen",
                      text=y_label, angle=math.pi / 2, text_align="center",
                      text_baseline="middle", text_font=FONT, text_font_size="25px",
                      text_color="#111111"))

total_w = YL_W + (60 + 511 + 20) + (140 + 510 + 8)
XL_H = 69
xlab = figure(width=total_w, height=XL_H, toolbar_location=None, output_backend="svg",
              x_range=Range1d(0, 1), y_range=Range1d(0, 1), min_border=0,
              x_axis_location=None, y_axis_location=None)
xlab.grid.visible = False
xlab.outline_line_color = None
xlab.add_layout(Label(x=660, y=XL_H - (1222 - grid_h), x_units="screen", y_units="screen",
                      text=x_label, text_align="center", text_baseline="middle",
                      text_font=FONT, text_font_size="25px", text_color="#111111"))

layout = column(row(ylab, column(row(f1, f2), row(f3, f4))), xlab)

open("out.html", "w").write(file_html(layout, INLINE))
